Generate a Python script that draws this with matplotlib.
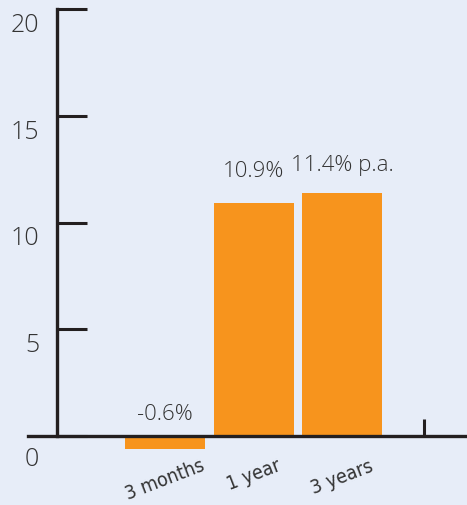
import matplotlib
matplotlib.use("Agg")
import matplotlib.pyplot as plt
from matplotlib import transforms

# data
periods = ['3 months', '1 year', '3 years']
returns = [-0.6, 10.9, 11.4]
bar_labels = ['-0.6%', '10.9%', '11.4% p.a.']
y_ticks = [0, 5, 10, 15, 20]

BG = '#E7EDF8'
ORANGE = '#F7941D'
DARK = '#231F20'
TEXT = '#333333'

plt.rcParams['font.family'] = ['Open Sans', 'DejaVu Sans']
plt.rcParams['font.weight'] = 'light'

fig = plt.figure(figsize=(4.67, 5.06), dpi=100, facecolor=BG)
ax = fig.add_axes([0.06, 0.073, 0.94, 0.907], facecolor=BG)

x = list(range(len(periods)))
ax.bar(x, returns, width=0.9, color=ORANGE, zorder=1)

ax.set_xlim(-1.55, 3.41)
ax.set_ylim(-1.5, 20)

# spines: y axis floats inside the axes, x axis sits on zero
for s in ['top', 'right']:
    ax.spines[s].set_visible(False)
ax.spines['left'].set_position(('data', -1.22))
ax.spines['left'].set_bounds(0, 20)
ax.spines['bottom'].set_position(('data', 0))
for s in ['left', 'bottom']:
    ax.spines[s].set_color(DARK)
    ax.spines[s].set_linewidth(2.4)
    ax.spines[s].set_zorder(3)

ax.set_yticks(y_ticks)
ax.set_yticklabels([str(v) for v in y_ticks])
ax.tick_params(axis='y', direction='in', length=21.5, width=2.2, color=DARK,
               pad=13, labelsize=18, labelcolor=TEXT)
for lab in ax.get_yticklabels():
    lab.set_verticalalignment('top')

ax.set_xticks(x)
ax.set_xticklabels(periods, rotation=21, ha='center',
                   family='DejaVu Sans', stretch='condensed', weight='normal',
                   fontsize=14, color=TEXT)
ax.tick_params(axis='x', which='major', length=0, pad=14)
# small end tick on the x axis
ax.set_xticks([2.92], minor=True)
ax.tick_params(axis='x', which='minor', direction='in', length=12, width=2.2,
               color=DARK)

# value labels above the bars / above the axis for the negative one
offsets = [9, 16, 13]
for xi, v, t, off in zip(x, returns, bar_labels, offsets):
    ax.annotate(t, (xi, max(v, 0)), xytext=(0, off), textcoords='offset points',
                ha='center', va='bottom', fontsize=16, color=TEXT)

# push the tick labels down a bit, the zero label a bit more
fig.canvas.draw()
for lab in ax.get_yticklabels():
    dy = -7 if lab.get_text() == '0' else -2
    lab.set_transform(lab.get_transform() +
                      transforms.ScaledTranslation(0, dy / 72, fig.dpi_scale_trans))

fig.savefig('out.png', dpi=100, facecolor=BG)
